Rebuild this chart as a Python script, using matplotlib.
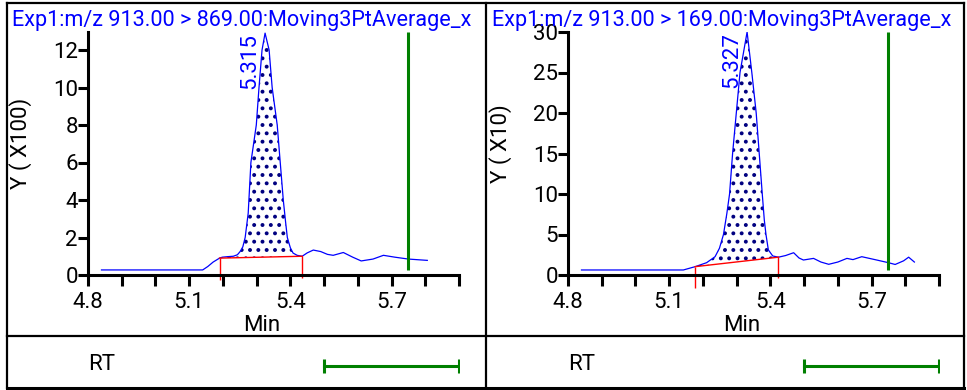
import numpy as np
import matplotlib.pyplot as plt
from matplotlib.lines import Line2D

plt.rcParams['font.family'] = ['Roboto', 'DejaVu Sans']
plt.rcParams['hatch.linewidth'] = 1.6

W, H = 967, 390

# ---- left panel: 913 > 869 ----
title1 = 'Exp1:m/z 913.00 > 869.00:Moving3PtAverage_x'
rt1 = [4.84, 5.14, 5.155, 5.171, 5.19, 5.198, 5.215, 5.231, 5.243, 5.251, 5.259, 5.266,
       5.275, 5.283, 5.299, 5.307, 5.316, 5.325, 5.337, 5.346, 5.361, 5.370, 5.379,
       5.386, 5.391, 5.40, 5.408, 5.42, 5.435, 5.45, 5.468, 5.49, 5.51, 5.527, 5.557,
       5.585, 5.61, 5.645, 5.676, 5.71, 5.75, 5.806]
int1 = [0.27, 0.27, 0.45, 0.69, 0.9, 0.95, 0.98, 1.0, 1.08, 1.25, 1.5, 2.0,
        3.3, 6.0, 8.0, 10.0, 12.0, 12.9, 12.0, 10.0, 8.0, 6.0, 4.0,
        2.8, 2.0, 1.45, 1.17, 1.05, 1.0, 1.18, 1.33, 1.25, 1.1, 1.05, 1.2,
        0.95, 0.75, 0.85, 1.05, 0.95, 0.85, 0.78]
base_rt1 = [5.19, 5.435]
base_y1 = [0.9, 1.0]
base_drop1 = [-0.27, -0.15]
peak_label1 = '5.315'
ylabel1 = 'Y ( X100)'
yticks1 = [0, 2, 4, 6, 8, 10, 12]
ymax1 = 12.96
green_bottom1 = 0.27

# ---- right panel: 913 > 169 ----
title2 = 'Exp1:m/z 913.00 > 169.00:Moving3PtAverage_x'
rt2 = [4.84, 5.142, 5.177, 5.211, 5.236, 5.249, 5.261, 5.271, 5.279, 5.288, 5.299,
       5.31, 5.331, 5.345, 5.358, 5.367, 5.376, 5.382, 5.387, 5.394, 5.407,
       5.424, 5.445, 5.469, 5.485, 5.498, 5.528, 5.55, 5.573, 5.6, 5.627, 5.645,
       5.671, 5.71, 5.75, 5.77, 5.795, 5.81, 5.827]
int2 = [0.62, 0.62, 1.03, 1.52, 2.26, 3.3, 5.0, 7.6, 10.0, 15.0, 20.0,
        25.0, 30.0, 25.0, 20.0, 15.0, 10.0, 6.8, 5.0, 3.1, 2.35,
        2.2, 2.4, 2.75, 2.1, 1.85, 2.05, 1.6, 1.32, 1.6, 2.05, 1.9,
        2.26, 1.9, 1.52, 1.3, 1.75, 2.2, 1.6]
base_rt2 = [5.177, 5.424]
base_y2 = [1.03, 2.2]
base_drop2 = [-1.6, -0.37]
peak_label2 = '5.327'
ylabel2 = 'Y ( X10)'
yticks2 = [0, 5, 10, 15, 20, 25, 30]
ymax2 = 30
green_bottom2 = 0.62

xticks = [4.8, 4.9, 5.0, 5.1, 5.2, 5.3, 5.4, 5.5, 5.6, 5.7, 5.8, 5.9]
xtick_labels = ['4.8', '', '', '5.1', '', '', '5.4', '', '', '5.7', '', '']
green_rt = 5.75
rt_window = [5.5, 5.9]

BLUE = '#0000ff'
NAVY = '#000080'
GREEN = '#008000'
RED = '#ff0000'
FS = 16
FS_TITLE = 15.6


def fx(px):
    return px / W


def fy(py):
    return 1 - py / H


def draw_panel(ax, t, y, brt, by, bdrop, plabel, ylabel, yticks, ymax, gbot):
    t = np.array(t)
    y = np.array(y)
    ax.set_xlim(4.8, 5.9)
    ax.set_ylim(0, ymax)
    for s in ['top', 'right']:
        ax.spines[s].set_visible(False)
    for s in ['left', 'bottom']:
        ax.spines[s].set_linewidth(2.2)
    ax.set_xticks(xticks)
    ax.set_xticklabels(xtick_labels)
    ax.set_yticks(yticks)
    ax.tick_params(axis='y', length=7.2, width=2.2, pad=0, labelsize=FS)
    ax.tick_params(axis='x', length=8, width=2.2, pad=4, labelsize=FS)

    # integrated area
    m = (t >= brt[0]) & (t <= brt[1])
    base = np.interp(t[m], brt, by)
    ax.fill_between(t[m], y[m], base, facecolor='white', edgecolor=NAVY,
                    hatch='..', linewidth=0)
    ax.plot(t, y, color=BLUE, lw=0.9)
    ax.plot(brt, by, color=RED, lw=1.0)
    ax.vlines(brt[0], bdrop[0], by[0], color=RED, lw=1.0, clip_on=False)
    ax.vlines(brt[1], bdrop[1], by[1], color=RED, lw=1.0, clip_on=False)
    ax.vlines(green_rt, gbot, ymax, color=GREEN, lw=2.2)

    i = int(np.argmax(y))
    ax.annotate(plabel, xy=(t[i], y[i]), xytext=(-3.5, 0), textcoords='offset points',
                rotation=90, ha='right', va='top', color=BLUE, fontsize=FS)

    ax.set_xlabel('Min', fontsize=FS)
    ax.xaxis.set_label_coords(0.469, -0.165)
    ax.set_ylabel(ylabel, fontsize=FS)
    ax.yaxis.set_label_coords(-0.15, 0.54)


def draw_rt(ax):
    ax.set_xlim(4.8, 5.9)
    ax.set_ylim(0, 1)
    ax.axis('off')
    ax.text(0.0, 0.44, 'RT', transform=ax.transAxes, ha='left', va='center',
            fontsize=FS)
    ax.plot(rt_window, [0.41, 0.41], color=GREEN, lw=2.2, marker='|',
            markersize=9.5, markeredgewidth=2.2)


fig = plt.figure(figsize=(W / 100, H / 100), dpi=100)

ax1 = fig.add_axes([fx(88), fy(275), 371 / W, 243 / H])
ax2 = fig.add_axes([fx(568), fy(275), 371 / W, 243 / H])
draw_panel(ax1, rt1, int1, base_rt1, base_y1, base_drop1, peak_label1, ylabel1,
           yticks1, ymax1, green_bottom1)
draw_panel(ax2, rt2, int2, base_rt2, base_y2, base_drop2, peak_label2, ylabel2,
           yticks2, ymax2, green_bottom2)

r1 = fig.add_axes([fx(88), fy(386), 371 / W, 49 / H])
r2 = fig.add_axes([fx(568), fy(386), 371 / W, 49 / H])
draw_rt(r1)
draw_rt(r2)

fig.text(fx(12), fy(26), title1, color=BLUE, fontsize=FS_TITLE, va='baseline', ha='left')
fig.text(fx(492), fy(26), title2, color=BLUE, fontsize=FS_TITLE, va='baseline', ha='left')

# frame lines (pixel coordinates)
frame = [
    ([7, 964], [3, 3], 1.6),
    ([7, 964], [387.5, 387.5], 2.2),
    ([7, 7], [3, 388], 1.6),
    ([964, 964], [3, 388], 1.6),
    ([486, 486], [3, 388], 1.6),
    ([7, 964], [336, 336], 1.6),
]
for xs, ys, lw in frame:
    fig.add_artist(Line2D([fx(v) for v in xs], [fy(v) for v in ys],
                          transform=fig.transFigure, color='black', lw=lw))

fig.savefig('out.png', dpi=100)
